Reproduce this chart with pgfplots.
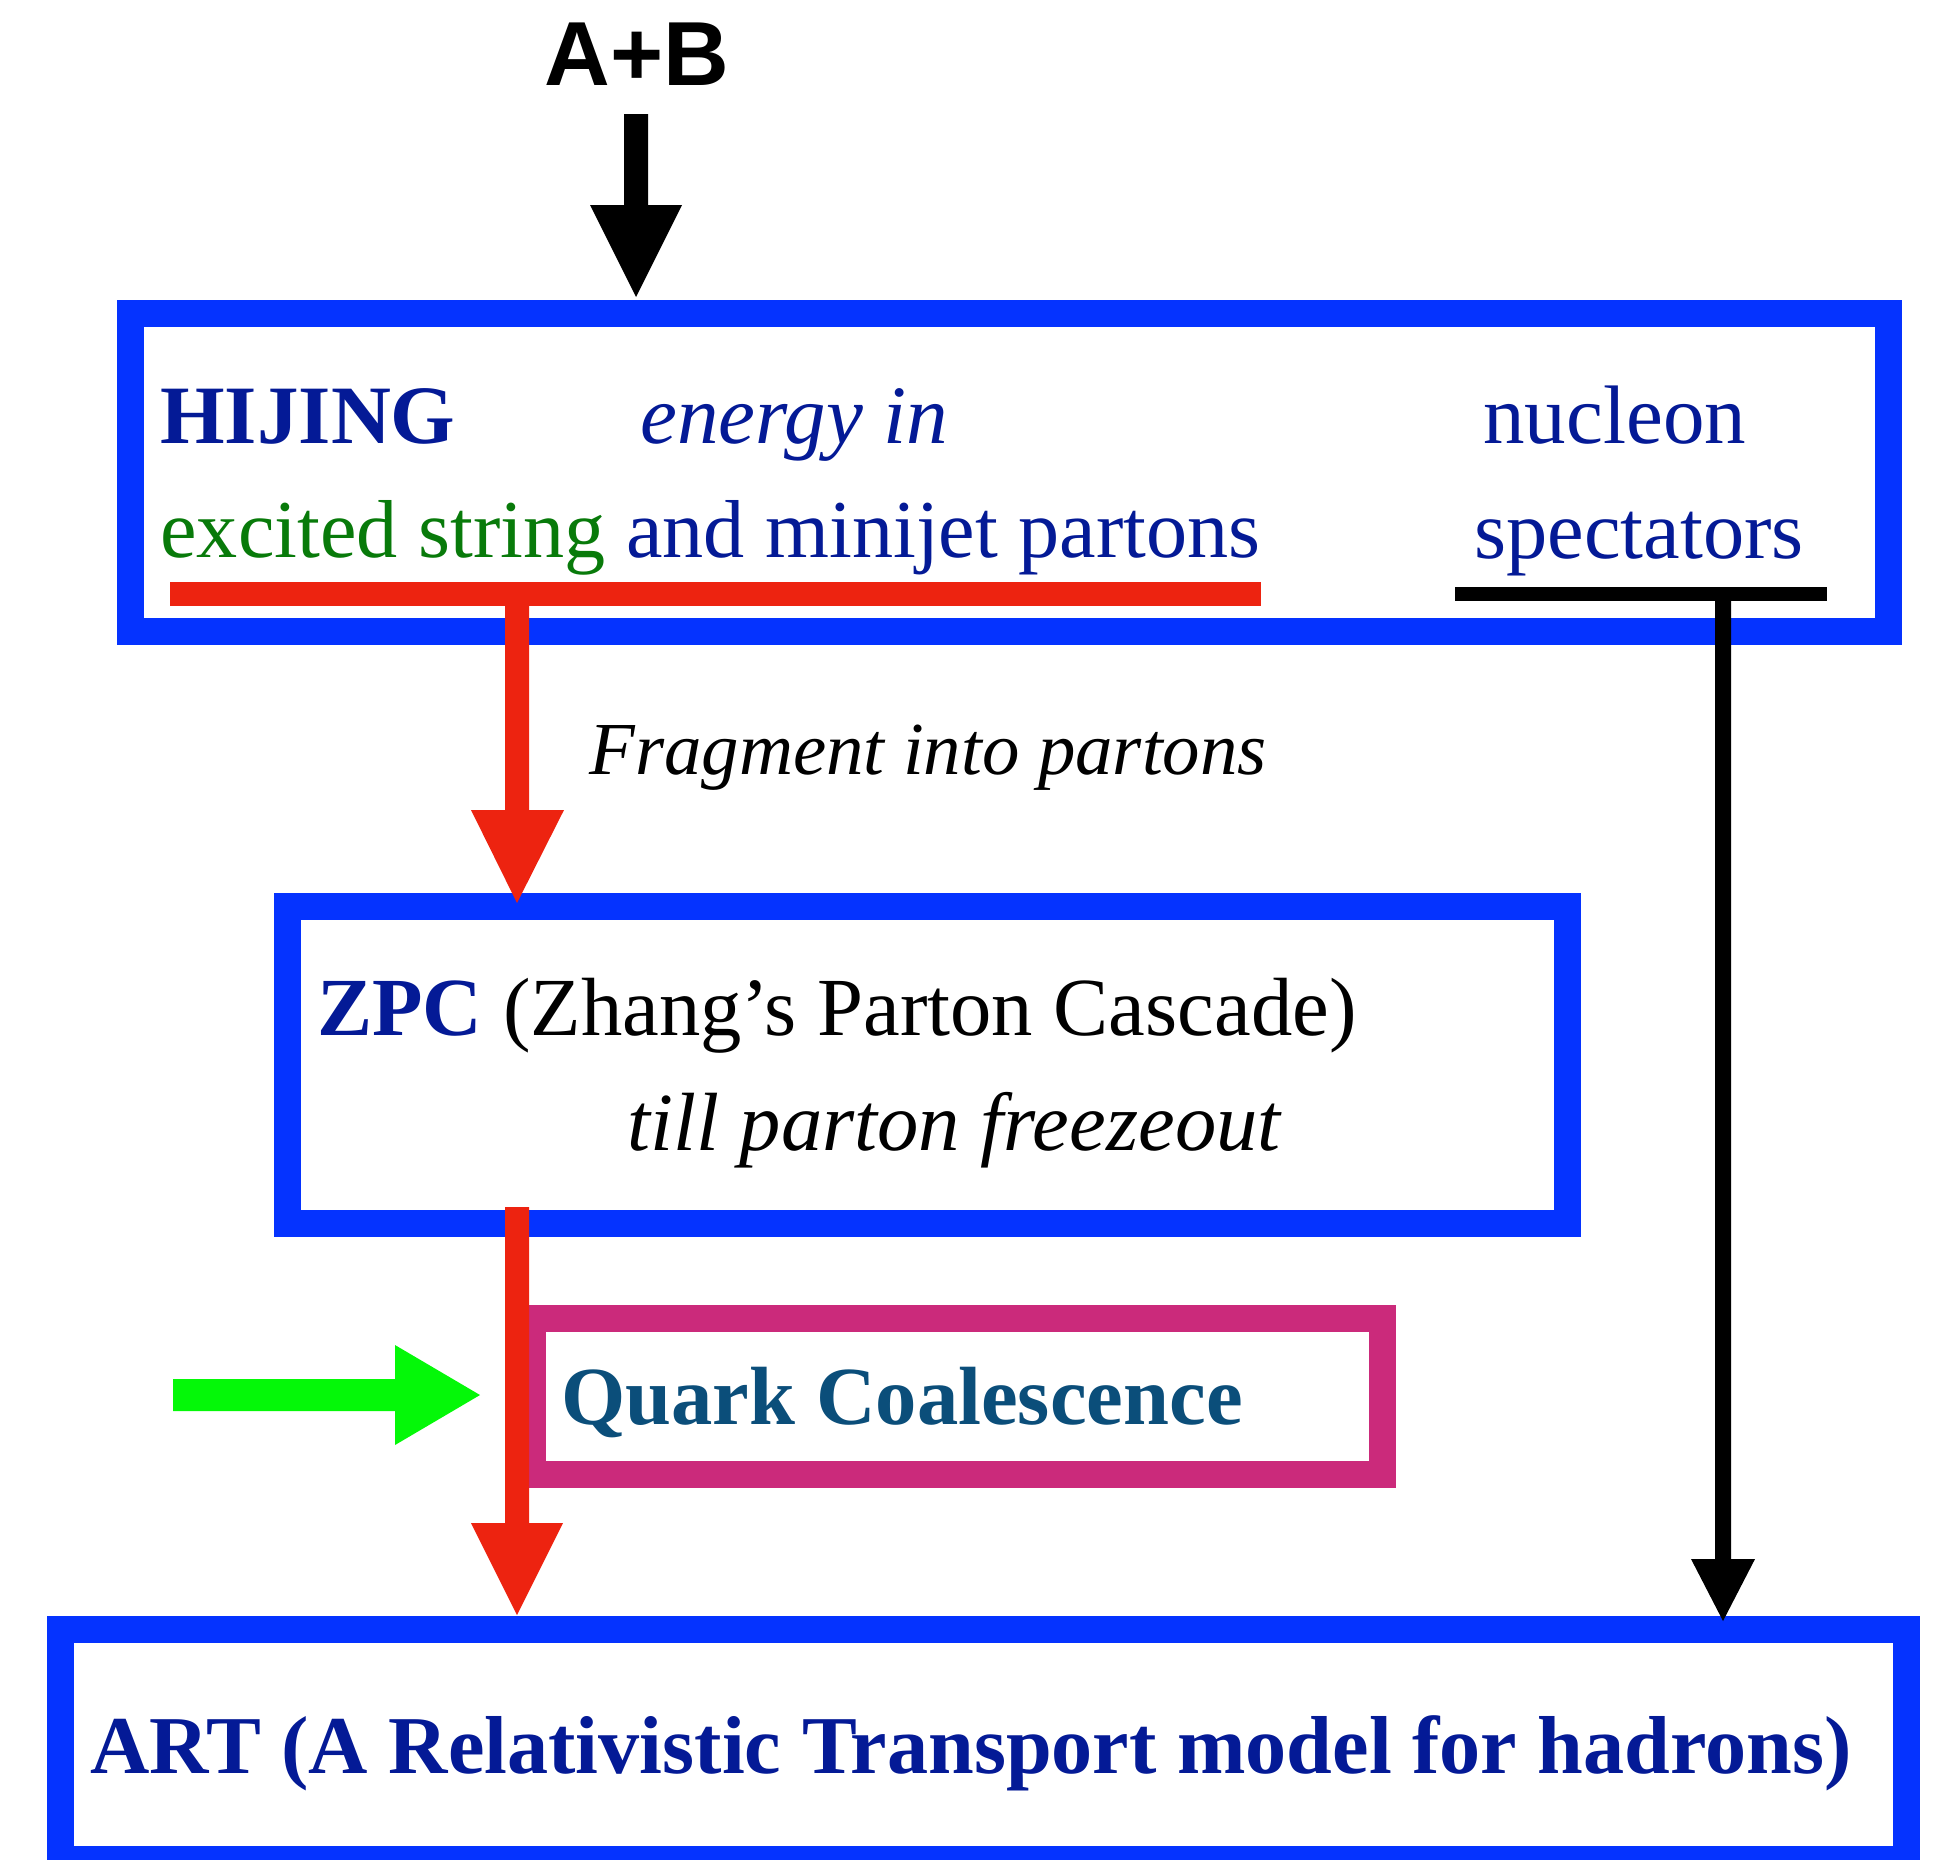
\documentclass[border=0pt]{standalone}
\usepackage{fontspec}
\setmainfont{Liberation Serif}
\newfontfamily\sansfont{Liberation Sans}
\usepackage{pgfplots}
\pgfplotsset{compat=1.18}
\definecolor{boxblue}{RGB}{5,51,255}
\definecolor{arrred}{RGB}{237,35,16}
\definecolor{navy}{RGB}{4,26,150}
\definecolor{txtgreen}{RGB}{8,122,10}
\definecolor{teal}{RGB}{11,78,122}
\definecolor{magbox}{RGB}{203,42,123}
\definecolor{brightgreen}{RGB}{4,248,8}
\newcommand{\bigsz}{\fontsize{41.5pt}{48pt}\selectfont}
\begin{document}
\begin{tikzpicture}
\begin{axis}[scale only axis, width=968pt, height=929.5pt,
  xmin=0, xmax=1936, ymin=0, ymax=1859, y dir=reverse,
  hide axis, clip=true, no markers]
% boxes
\addplot[draw=boxblue, line width=13.5pt, line join=miter] coordinates {(130.5,313.5) (1888.5,313.5) (1888.5,631) (130.5,631)} -- cycle;
\addplot[draw=boxblue, line width=13.5pt, line join=miter] coordinates {(287.5,906) (1567.5,906) (1567.5,1223.5) (287.5,1223.5)} -- cycle;
\addplot[draw=magbox, line width=13.5pt, line join=miter] coordinates {(532.5,1318.5) (1382.5,1318.5) (1382.5,1474.5) (532.5,1474.5)} -- cycle;
\addplot[draw=boxblue, line width=13.5pt, line join=miter] coordinates {(60.5,1629.5) (1906.5,1629.5) (1906.5,1859.5) (60.5,1859.5)} -- cycle;
% A+B arrow
\addplot[fill=black, draw=none] coordinates {(624,114) (648,114) (648,205) (682,205) (636,297) (590,205) (624,205)} -- cycle;
% red underline and arrow 1
\addplot[fill=arrred, draw=none] coordinates {(170,582) (1261,582) (1261,606) (170,606)} -- cycle;
\addplot[fill=arrred, draw=none] coordinates {(505,600) (529,600) (529,810) (564,810) (517,903) (471,810) (505,810)} -- cycle;
% black underline and arrow
\addplot[fill=black, draw=none] coordinates {(1455,587) (1827,587) (1827,601) (1455,601)} -- cycle;
\addplot[fill=black, draw=none] coordinates {(1715,595) (1731,595) (1731,1559) (1755,1559) (1723,1621) (1691,1559) (1715,1559)} -- cycle;
% red arrow 2
\addplot[fill=arrred, draw=none] coordinates {(505,1207) (529,1207) (529,1523) (563,1523) (517,1615) (471,1523) (505,1523)} -- cycle;
% green arrow
\addplot[fill=brightgreen, draw=none] coordinates {(173,1379) (395,1379) (395,1345) (480,1395) (395,1445) (395,1411) (173,1411)} -- cycle;
% texts
\node[anchor=base west, inner sep=0pt, font=\sansfont\bfseries\fontsize{45.5pt}{52pt}\selectfont] at (axis cs:544,85) {A+B};
\node[anchor=base west, inner sep=0pt, font=\bigsz\bfseries, text=navy] at (axis cs:160,443) {HIJING};
\node[anchor=base west, inner sep=0pt, font=\bigsz\itshape, text=navy] at (axis cs:640,443) {energy in};
\node[anchor=base west, inner sep=0pt, font=\bigsz, text=navy] at (axis cs:1483,443) {nucleon};
\node[anchor=base west, inner sep=0pt, font=\fontsize{41.1pt}{48pt}\selectfont, text=navy] at (axis cs:160,557) {\textcolor{txtgreen}{excited string} and minijet partons};
\node[anchor=base west, inner sep=0pt, font=\fontsize{41.2pt}{48pt}\selectfont, text=navy] at (axis cs:1474,558) {spectators};
\node[anchor=base west, inner sep=0pt, font=\fontsize{37.4pt}{44pt}\selectfont\itshape, text=black] at (axis cs:589,774) {Fragment into partons};
\node[anchor=base west, inner sep=0pt, font=\fontsize{41.3pt}{48pt}\selectfont, text=black] at (axis cs:317,1035) {\textcolor{navy}{\bfseries ZPC} (Zhang’s Parton Cascade)};
\node[anchor=base west, inner sep=0pt, font=\fontsize{41.3pt}{48pt}\selectfont\itshape, text=black] at (axis cs:627,1150) {till parton freezeout};
\node[anchor=base west, inner sep=0pt, font=\fontsize{41.3pt}{48pt}\selectfont\bfseries, text=teal] at (axis cs:561,1424) {Quark Coalescence};
\node[anchor=base west, inner sep=0pt, font=\fontsize{41.1pt}{48pt}\selectfont\bfseries, text=navy] at (axis cs:90,1773) {ART (A Relativistic Transport model for hadrons)};
\end{axis}
\pgfresetboundingbox
\useasboundingbox (current axis.south west) rectangle (current axis.north east);
\end{tikzpicture}
\end{document}
